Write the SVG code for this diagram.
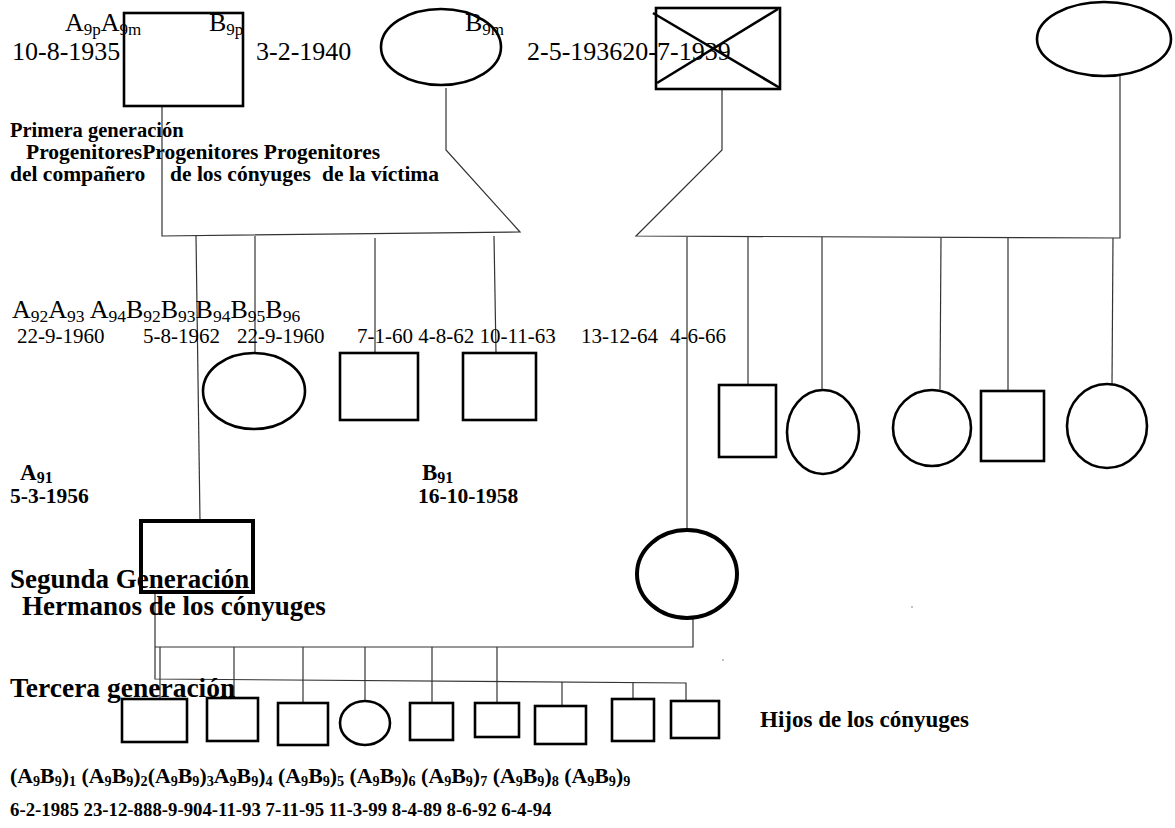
<svg xmlns="http://www.w3.org/2000/svg" width="1175" height="828" viewBox="0 0 1175 828">
<style>
text{font-family:"Liberation Serif","Times New Roman",serif;fill:#000}
.r{font-size:26px}
.d{font-size:21px}
.b{font-weight:bold}
.node{fill:none;stroke:#000;stroke-width:2.6}
.bold{fill:none;stroke:#000;stroke-width:4}
.ln{fill:none;stroke:#333;stroke-width:1.2}
</style>
<rect width="1175" height="828" fill="#fff"/>
<g id="connectors">
<polyline class="ln" points="162,106 162,236 520,232 446,150 446,88"/>
<polyline class="ln" points="722,89 722,150 636,236 1120,238 1120,76"/>
<line class="ln" x1="196" y1="236" x2="200" y2="521"/>
<line class="ln" x1="255" y1="236" x2="255" y2="353"/>
<line class="ln" x1="375" y1="238" x2="375" y2="353"/>
<line class="ln" x1="494" y1="236" x2="496" y2="353"/>
<line class="ln" x1="687" y1="237" x2="687" y2="530"/>
<line class="ln" x1="748" y1="237" x2="748" y2="385"/>
<line class="ln" x1="822" y1="237" x2="822" y2="389"/>
<line class="ln" x1="941" y1="238" x2="940" y2="389"/>
<line class="ln" x1="1008" y1="238" x2="1008" y2="391"/>
<line class="ln" x1="1113" y1="238" x2="1112" y2="384"/>
<polyline class="ln" points="155,592 155,679 686,683 686,701"/>
<polyline class="ln" points="155,647 693,647 693,618"/>
<line class="ln" x1="160" y1="647" x2="160" y2="699"/>
<line class="ln" x1="234" y1="647" x2="234" y2="698"/>
<line class="ln" x1="303" y1="647" x2="303" y2="703"/>
<line class="ln" x1="365" y1="647" x2="365" y2="701"/>
<line class="ln" x1="432" y1="647" x2="432" y2="703"/>
<line class="ln" x1="497" y1="647" x2="497" y2="703"/>
<line class="ln" x1="562" y1="682" x2="562" y2="706"/>
<line class="ln" x1="633" y1="682" x2="633" y2="699"/>
</g>
<g id="n-a9p"><rect class="node" x="124" y="13" width="119" height="93"/></g>
<g id="n-b9m"><ellipse class="node" cx="441" cy="47" rx="60" ry="38"/></g>
<g id="n-b9p"><rect class="node" x="656" y="8" width="124" height="81"/><line class="node" x1="653" y1="13" x2="780" y2="88"/><line class="node" x1="657" y1="83" x2="778" y2="9"/></g>
<g id="n-b9m2"><ellipse class="node" cx="1104" cy="39" rx="67" ry="37"/></g>
<g id="n-a-sib1"><ellipse class="node" cx="254" cy="391" rx="51" ry="38"/></g>
<g id="n-a-sib2"><rect class="node" x="340" y="353" width="78" height="67"/></g>
<g id="n-a-sib3"><rect class="node" x="463" y="353" width="73" height="67"/></g>
<g id="n-b-sib1"><rect class="node" x="719" y="385" width="57" height="72"/></g>
<g id="n-b-sib2"><ellipse class="node" cx="823" cy="432" rx="36" ry="42"/></g>
<g id="n-b-sib3"><ellipse class="node" cx="932" cy="428" rx="39" ry="38"/></g>
<g id="n-b-sib4"><rect class="node" x="981" y="391" width="63" height="70"/></g>
<g id="n-b-sib5"><ellipse class="node" cx="1107" cy="426" rx="40" ry="42"/></g>
<g id="n-a91"><rect class="bold" x="141" y="521" width="112" height="71"/></g>
<g id="n-b91"><ellipse class="bold" cx="687" cy="574" rx="50" ry="44"/></g>
<g id="n-c1"><rect class="node" x="122" y="699" width="65" height="43"/></g>
<g id="n-c2"><rect class="node" x="207" y="698" width="51" height="43"/></g>
<g id="n-c3"><rect class="node" x="278" y="703" width="50" height="42"/></g>
<g id="n-c4"><ellipse class="node" cx="365" cy="723" rx="25" ry="22"/></g>
<g id="n-c5"><rect class="node" x="410" y="703" width="43" height="37"/></g>
<g id="n-c6"><rect class="node" x="475" y="703" width="44" height="34"/></g>
<g id="n-c7"><rect class="node" x="535" y="706" width="51" height="38"/></g>
<g id="n-c8"><rect class="node" x="612" y="699" width="42" height="42"/></g>
<g id="n-c9"><rect class="node" x="671" y="701" width="48" height="37"/></g>
<circle cx="912" cy="607" r="0.7" fill="#555"/>
<circle cx="723" cy="660" r="0.7" fill="#555"/>
<g id="labels">
<text class="r" x="65" y="31">A<tspan font-size="17" dy="4">9p</tspan><tspan dy="-4">A</tspan><tspan font-size="17" dy="4">9m</tspan></text>
<text class="r" x="209" y="31">B<tspan font-size="17" dy="4">9p</tspan></text>
<text class="r" x="465" y="31">B<tspan font-size="17" dy="4">9m</tspan></text>
<text class="r" x="12" y="60">10-8-1935</text>
<text class="r" x="256" y="60">3-2-1940</text>
<text class="r" x="527" y="60">2-5-193620-7-1939</text>
<text class="b" font-size="20.5" x="10" y="137">Primera generación</text>
<text class="b" font-size="21.5" x="26" y="159">ProgenitoresProgenitores Progenitores</text>
<text class="b" font-size="21.5" y="181"><tspan x="10">del compañero</tspan><tspan x="170">de los cónyuges</tspan><tspan x="322">de la víctima</tspan></text>
<text class="r" x="12" y="318" xml:space="preserve">A<tspan font-size="17.5" dy="4">92</tspan><tspan dy="-4">A</tspan><tspan font-size="17.5" dy="4">93</tspan><tspan dy="-4"> A</tspan><tspan font-size="17.5" dy="4">94</tspan><tspan dy="-4">B</tspan><tspan font-size="17.5" dy="4">92</tspan><tspan dy="-4">B</tspan><tspan font-size="17.5" dy="4">93</tspan><tspan dy="-4">B</tspan><tspan font-size="17.5" dy="4">94</tspan><tspan dy="-4">B</tspan><tspan font-size="17.5" dy="4">95</tspan><tspan dy="-4">B</tspan><tspan font-size="17.5" dy="4">96</tspan></text>
<text class="d" y="343"><tspan x="17">22-9-1960</tspan><tspan x="143">5-8-1962</tspan><tspan x="237">22-9-1960</tspan><tspan x="357">7-1-60 4-8-62 10-11-63</tspan><tspan x="581">13-12-64</tspan><tspan x="670">4-6-66</tspan></text>
<text class="b" font-size="23" x="20" y="480">A<tspan font-size="16" dy="3">91</tspan></text>
<text class="b" font-size="21.5" x="10" y="503">5-3-1956</text>
<text class="b" font-size="23" x="422" y="480">B<tspan font-size="16" dy="3">91</tspan></text>
<text class="b" font-size="21.5" x="418" y="503">16-10-1958</text>
<text class="b" font-size="27" x="10" y="588">Segunda Generación</text>
<text class="b" font-size="27" x="22" y="615">Hermanos de los cónyuges</text>
<text class="b" font-size="27.5" x="10" y="697">Tercera generación</text>
<text class="b" font-size="23" x="760" y="727">Hijos de los cónyuges</text>
<text class="b" font-size="21.8" x="10" y="783" xml:space="preserve">(A<tspan font-size="14.2" dy="3">9</tspan><tspan dy="-3">B</tspan><tspan font-size="14.2" dy="3">9</tspan><tspan dy="-3">)</tspan><tspan font-size="14.2" dy="3">1</tspan><tspan dy="-3"> (A</tspan><tspan font-size="14.2" dy="3">9</tspan><tspan dy="-3">B</tspan><tspan font-size="14.2" dy="3">9</tspan><tspan dy="-3">)</tspan><tspan font-size="14.2" dy="3">2</tspan><tspan dy="-3">(A</tspan><tspan font-size="14.2" dy="3">9</tspan><tspan dy="-3">B</tspan><tspan font-size="14.2" dy="3">9</tspan><tspan dy="-3">)</tspan><tspan font-size="14.2" dy="3">3</tspan><tspan dy="-3">A</tspan><tspan font-size="14.2" dy="3">9</tspan><tspan dy="-3">B</tspan><tspan font-size="14.2" dy="3">9</tspan><tspan dy="-3">)</tspan><tspan font-size="14.2" dy="3">4</tspan><tspan dy="-3"> (A</tspan><tspan font-size="14.2" dy="3">9</tspan><tspan dy="-3">B</tspan><tspan font-size="14.2" dy="3">9</tspan><tspan dy="-3">)</tspan><tspan font-size="14.2" dy="3">5</tspan><tspan dy="-3"> (A</tspan><tspan font-size="14.2" dy="3">9</tspan><tspan dy="-3">B</tspan><tspan font-size="14.2" dy="3">9</tspan><tspan dy="-3">)</tspan><tspan font-size="14.2" dy="3">6</tspan><tspan dy="-3"> (A</tspan><tspan font-size="14.2" dy="3">9</tspan><tspan dy="-3">B</tspan><tspan font-size="14.2" dy="3">9</tspan><tspan dy="-3">)</tspan><tspan font-size="14.2" dy="3">7</tspan><tspan dy="-3"> (A</tspan><tspan font-size="14.2" dy="3">9</tspan><tspan dy="-3">B</tspan><tspan font-size="14.2" dy="3">9</tspan><tspan dy="-3">)</tspan><tspan font-size="14.2" dy="3">8</tspan><tspan dy="-3"> (A</tspan><tspan font-size="14.2" dy="3">9</tspan><tspan dy="-3">B</tspan><tspan font-size="14.2" dy="3">9</tspan><tspan dy="-3">)</tspan><tspan font-size="14.2" dy="3">9</tspan></text>
<text class="b" font-size="18.8" x="10" y="816">6-2-1985 23-12-888-9-904-11-93 7-11-95 11-3-99 8-4-89 8-6-92 6-4-94</text>
</g>
</svg>
